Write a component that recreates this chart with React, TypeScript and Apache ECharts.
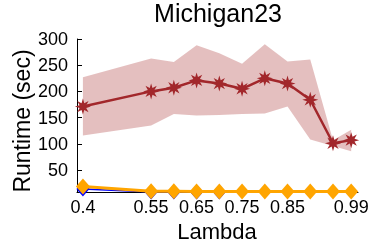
import React, { useEffect, useRef } from "react";
import * as echarts from "echarts";

const lambdas = [0.4, 0.55, 0.6, 0.65, 0.7, 0.75, 0.8, 0.85, 0.9, 0.95, 0.99];
const redMean = [171, 200, 207, 221, 215, 205, 225, 215, 184, 101, 107];
const redUpper = [227, 263, 256, 288, 273, 253, 290, 257, 261, 107, 127];
const redLower = [116, 135, 157, 154, 155, 157, 158, 171, 108, 96, 86];
const orangeVals = [18.5, 9.5, 9.5, 9, 9, 9, 9, 9, 9, 9, 9];
const blueVals = [13.5, 8, 8, 8, 8, 3, 3, 3, 3, 3, 3];
const xTicks = [0.4, 0.55, 0.65, 0.75, 0.85, 0.99];
const yTicks = [50, 100, 150, 200, 250, 300];

const FONT = "'Liberation Sans', Arial, Helvetica, sans-serif";

const starPath = (() => {
  let d = "";
  for (let i = 0; i < 16; i++) {
    const a = (Math.PI * i) / 8 - Math.PI / 2;
    const r = i % 2 === 0 ? 10 : 4.5;
    d += (i ? "L" : "M") + (10 + r * Math.cos(a)).toFixed(2) + " " + (10 + r * Math.sin(a)).toFixed(2) + " ";
  }
  return "path://" + d + "Z";
})();

export default function App() {
  const ref = useRef<HTMLDivElement>(null);
  useEffect(() => {
    if (!ref.current) return;
    const chart = echarts.init(ref.current, null, { renderer: "svg" });
    const pair = (vals: number[]) => lambdas.map((x, i) => [x, vals[i]]);
    chart.setOption({
      animation: false,
      grid: { left: 77, right: 16, top: 39, bottom: 57 },
      graphic: [
        {
          type: "text",
          x: 218,
          y: 13,
          style: { text: "Michigan23", font: `25px ${FONT}`, fill: "#000", textAlign: "center", textVerticalAlign: "middle" },
        },
        {
          type: "text",
          x: 217,
          y: 231,
          style: { text: "Lambda", font: `22px ${FONT}`, fill: "#000", textAlign: "center", textVerticalAlign: "middle" },
        },
        {
          type: "text",
          x: 22,
          y: 121,
          rotation: Math.PI / 2,
          style: { text: "Runtime (sec)", font: `23px ${FONT}`, fill: "#000", textAlign: "center", textVerticalAlign: "middle" },
        },
      ],
      xAxis: {
        type: "value",
        min: 0.387,
        max: 1.005,
        splitLine: { show: false },
        axisLine: { show: true, onZero: false, lineStyle: { color: "#000", width: 1 } },
        axisTick: { show: true, inside: true, length: 5, customValues: xTicks, lineStyle: { color: "#000" } },
        axisLabel: {
          customValues: xTicks,
          formatter: (v: number) => String(v),
          color: "#000",
          fontSize: 18,
          fontFamily: FONT,
          margin: 6,
        },
      },
      yAxis: {
        type: "value",
        min: 8,
        max: 300,
        splitLine: { show: false },
        axisLine: { show: true, lineStyle: { color: "#000", width: 1 } },
        axisTick: { show: true, inside: true, length: 5, customValues: yTicks, lineStyle: { color: "#000" } },
        axisLabel: {
          customValues: yTicks,
          color: "#000",
          fontSize: 18,
          fontFamily: FONT,
          margin: 9,
        },
      },
      series: [
        {
          type: "custom",
          silent: true,
          z: 1,
          data: [[lambdas[0], redLower[0]]],
          renderItem: (_params: any, api: any) => {
            const top = lambdas.map((x, i) => api.coord([x, redUpper[i]]));
            const bot = lambdas.map((x, i) => api.coord([x, redLower[i]])).reverse();
            return {
              type: "polygon",
              shape: { points: top.concat(bot) },
              style: { fill: "rgba(165,42,42,0.3)" },
            };
          },
        },
        {
          type: "line",
          z: 3,
          data: pair(blueVals),
          clip: true,
          symbol: "diamond",
          symbolSize: [13, 15],
          lineStyle: { color: "#0000ff", width: 1.5 },
          itemStyle: { color: "#0000ff" },
        },
        {
          type: "line",
          z: 4,
          data: pair(orangeVals),
          clip: true,
          symbol: "diamond",
          symbolSize: [14, 16],
          lineStyle: { color: "#ffa500", width: 3 },
          itemStyle: { color: "#ffa500" },
        },
        {
          type: "line",
          z: 5,
          data: pair(redMean),
          symbol: starPath,
          symbolKeepAspect: true,
          symbolSize: 16,
          lineStyle: { color: "#a2272b", width: 2.5 },
          itemStyle: { color: "#a2272b" },
        },
      ],
    });
    return () => chart.dispose();
  }, []);
  return <div ref={ref} style={{ position: "fixed", left: 0, top: 0, width: 374, height: 249 }} />;
}
